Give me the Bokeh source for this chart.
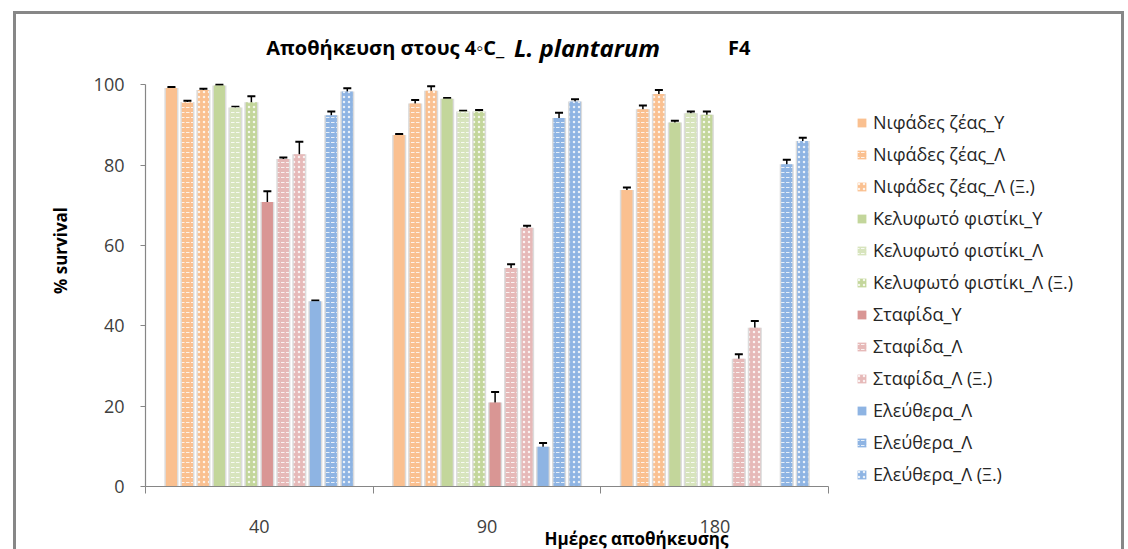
from bokeh.plotting import figure
from bokeh.models import (ColumnDataSource, Range1d, LinearAxis, FixedTicker,
                          Whisker, TeeHead, Legend, LegendItem, Label)
from bokeh.transform import dodge
from bokeh.embed import file_html
from bokeh.resources import INLINE

days = ["40", "90", "180"]
series_names = ["Νιφάδες ζέας_Υ", "Νιφάδες ζέας_Λ", "Νιφάδες ζέας_Λ (Ξ.)",
                "Κελυφωτό φιστίκι_Υ", "Κελυφωτό φιστίκι_Λ", "Κελυφωτό φιστίκι_Λ (Ξ.)",
                "Σταφίδα_Υ", "Σταφίδα_Λ", "Σταφίδα_Λ (Ξ.)",
                "Ελεύθερα_Λ", "Ελεύθερα_Λ", "Ελεύθερα_Λ (Ξ.)"]

# values (% survival) at 40, 90, 180 days
nifades_y = [99.2, 87.5, 73.8]
nifades_l = [95.7, 95.3, 93.9]
nifades_lx = [98.7, 98.5, 97.7]
kelyf_y = [99.8, 96.5, 90.6]
kelyf_l = [94.3, 93.3, 92.9]
kelyf_lx = [95.6, 93.3, 92.5]
stafida_y = [70.8, 20.9, float("nan")]
stafida_l = [81.5, 54.4, 31.8]
stafida_lx = [82.7, 64.4, 39.5]
eleft_l1 = [46.1, 9.9, float("nan")]
eleft_l2 = [92.4, 91.7, 80.2]
eleft_lx = [98.3, 95.8, 86.0]

# error (±)
nifades_y_err = [0.2, 0.2, 0.6]
nifades_l_err = [0.3, 0.9, 0.9]
nifades_lx_err = [0.3, 1.1, 1.0]
kelyf_y_err = [0.2, 0.2, 0.4]
kelyf_l_err = [0.2, 0.2, 0.4]
kelyf_lx_err = [1.5, 0.4, 0.8]
stafida_y_err = [2.7, 2.6, float("nan")]
stafida_l_err = [0.4, 0.9, 1.1]
stafida_lx_err = [3.1, 0.5, 1.7]
eleft_l1_err = [0.2, 0.9, float("nan")]
eleft_l2_err = [0.9, 1.3, 1.1]
eleft_lx_err = [0.8, 0.6, 0.8]

values = [nifades_y, nifades_l, nifades_lx, kelyf_y, kelyf_l, kelyf_lx,
          stafida_y, stafida_l, stafida_lx, eleft_l1, eleft_l2, eleft_lx]
errors = [nifades_y_err, nifades_l_err, nifades_lx_err, kelyf_y_err, kelyf_l_err, kelyf_lx_err,
          stafida_y_err, stafida_l_err, stafida_lx_err, eleft_l1_err, eleft_l2_err, eleft_lx_err]

colors = ["#FAC090", "#FAC090", "#FAC090",
          "#C3D69B", "#D7E4BD", "#C3D69B",
          "#D99694", "#E6B9B8", "#E6B9B8",
          "#8EB4E3", "#8EB4E3", "#8EB4E3"]
hatches = [" ", "horizontal_dash", "dot"] * 4

FONT = "Open Sans"

# category positions on a numeric axis: category k occupies [k, k+1]
cat_pos = [k + 0.5 for k in range(len(days))]

p = figure(x_range=Range1d(0, 4.312), y_range=Range1d(0, 117.46),
           width=1111, height=538, output_backend="svg", toolbar_location=None,
           x_axis_location=None, min_border_left=129, min_border_right=0,
           min_border_top=0, min_border_bottom=64)
p.grid.visible = False
p.outline_line_color = None
p.background_fill_color = "white"
p.styles = {"border-top": "3px solid #878787", "border-left": "3px solid #878787",
            "border-right": "3px solid #878787", "margin-left": "13px", "margin-top": "11px"}

step = 0.0702
bw = 0.049
items = []
for i, (name, vals, errs) in enumerate(zip(series_names, values, errors)):
    off = (i - 5.5) * step
    src = ColumnDataSource(dict(x=cat_pos, v=vals,
                                up=[a + b for a, b in zip(vals, errs)],
                                lo=[a - b for a, b in zip(vals, errs)]))
    p.vbar(x=dodge("x", off), top="v", width=bw + 0.013, source=src,
           fill_color="#c4c4c4", fill_alpha=0.6, line_color=None)
    r = p.vbar(x=dodge("x", off), top="v", width=bw, source=src,
               fill_color=colors[i], line_color=None,
               hatch_pattern=hatches[i], hatch_color="white", hatch_alpha=0.8,
               hatch_scale=5, hatch_weight=1)
    w = Whisker(base=dodge("x", off), upper="up", lower="lo", source=src,
                line_color="black", line_width=1.5,
                upper_head=TeeHead(size=8, line_width=2, line_color="black"),
                lower_head=TeeHead(size=8, line_width=2, line_color="black"))
    p.add_layout(w)
    items.append(LegendItem(label=name, renderers=[r]))

xaxis = LinearAxis(ticker=FixedTicker(ticks=cat_pos, minor_ticks=list(range(len(days) + 1))),
                   major_label_overrides={c: d for c, d in zip(cat_pos, days)},
                   bounds=(0, len(days)))
xaxis.axis_line_color = "#868686"
xaxis.axis_line_width = 1.2
xaxis.major_tick_line_color = None
xaxis.minor_tick_line_color = "#868686"
xaxis.minor_tick_out = 7
xaxis.minor_tick_in = 0
xaxis.major_label_standoff = 26
xaxis.major_label_text_font = FONT
xaxis.major_label_text_font_size = "18px"
xaxis.major_label_text_color = "#404040"
xaxis.axis_label = "Ημέρες αποθήκευσης"
xaxis.axis_label_text_font = FONT
xaxis.axis_label_text_font_size = "17px"
xaxis.axis_label_text_font_style = "bold"
xaxis.axis_label_standoff = -9
xaxis.axis_label_text_color = "black"
p.add_layout(xaxis, "below")

ya = p.yaxis[0]
ya.ticker = FixedTicker(ticks=[0, 20, 40, 60, 80, 100])
ya.bounds = (0, 100)
ya.axis_line_color = "#868686"
ya.axis_line_width = 1.2
ya.major_tick_line_color = "#868686"
ya.major_tick_out = 5
ya.major_tick_in = 0
ya.minor_tick_line_color = None
ya.major_label_standoff = 16
ya.major_label_text_font = FONT
ya.major_label_text_font_size = "18px"
ya.major_label_text_color = "#404040"
ya.axis_label = "% survival"
ya.axis_label_text_font = FONT
ya.axis_label_text_font_size = "17px"
ya.axis_label_text_font_style = "bold"
ya.axis_label_standoff = 19
ya.axis_label_text_color = "black"

legend = Legend(items=items, location=(711, 0), margin=0, padding=0,
                glyph_width=11, glyph_height=11, label_height=24, spacing=8,
                label_text_font=FONT, label_text_font_size="18px",
                label_text_color="#262626", label_standoff=6,
                border_line_color=None, background_fill_alpha=0)
p.add_layout(legend)

title_y = 109.2
t1 = Label(x=0.530, y=title_y, text="Αποθήκευση στους 4◦C_",
           text_font=FONT, text_font_style="bold", text_font_size="20px",
           text_baseline="middle", text_color="black")
t2 = Label(x=1.618, y=title_y, text="L. plantarum",
           text_font=FONT, text_font_style="bold italic", text_font_size="24px",
           text_baseline="middle", text_color="black")
t3 = Label(x=2.558, y=title_y, text="F4",
           text_font=FONT, text_font_style="bold", text_font_size="20px",
           text_baseline="middle", text_color="black")
for t in (t1, t2, t3):
    p.add_layout(t)

open("out.html", "w").write(file_html(p, INLINE))
